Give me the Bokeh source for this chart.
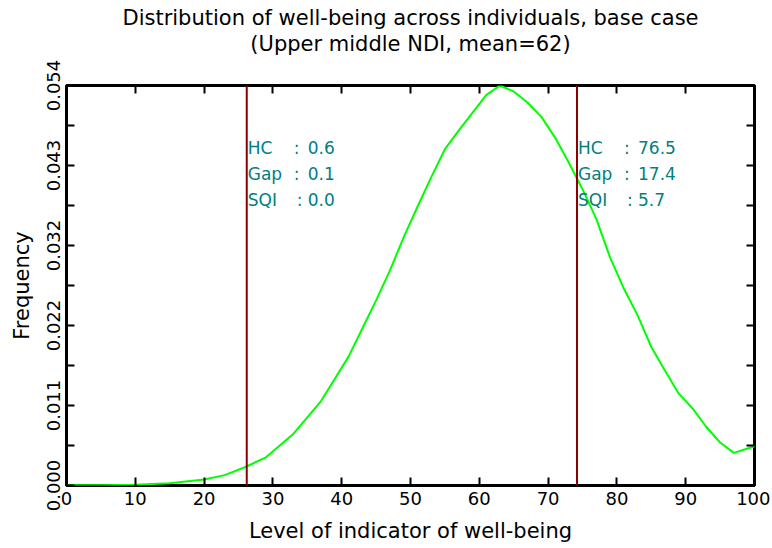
from bokeh.plotting import figure
from bokeh.models import Range1d, FixedTicker, LinearAxis, Label, Span, ColumnDataSource, Title
from bokeh.embed import file_html
from bokeh.resources import INLINE

# ---- data ----
wellbeing_level = [0, 5, 10, 15, 20, 23, 26, 29, 33, 37, 41, 43, 45, 47, 49, 51, 53, 55, 57, 59,
                   61, 63, 65, 67, 69, 71, 73, 75, 77, 79, 81, 83, 85, 87, 89, 91, 93, 95, 97, 99, 101]
frequency = [0.00005, 0.00005, 0.0001, 0.0003, 0.0008, 0.0014, 0.0025, 0.0038, 0.0070, 0.0114,
             0.0174, 0.0212, 0.0250, 0.0290, 0.0335, 0.0376, 0.0416, 0.0454, 0.0479, 0.0503,
             0.0527, 0.0540, 0.0532, 0.0517, 0.0498, 0.0470, 0.0436, 0.0400, 0.0360, 0.0308,
             0.0266, 0.0230, 0.0187, 0.0155, 0.0124, 0.0104, 0.0079, 0.0058, 0.0044, 0.0050, 0.0056]

threshold_lines = [26.2, 74.2]
stat_names = ["HC", "Gap", "SQI"]
stat_values_low = [0.6, 0.1, 0.0]
stat_values_high = [76.5, 17.4, 5.7]

title_line1 = "Distribution of well-being across individuals, base case"
title_line2 = "(Upper middle NDI, mean=62)"

x_ticks = [0, 10, 20, 30, 40, 50, 60, 70, 80, 90, 100]
y_ticks = [0, 0.0108, 0.0216, 0.0324, 0.0432, 0.054]
y_minor_ticks = [0.0054, 0.0162, 0.027, 0.0378, 0.0486]
y_tick_labels = ["0.000", "0.011", "0.022", "0.032", "0.043", "0.054"]

FONT = "DejaVu Sans"
TEAL = "#008080"
DARKRED = "#8b0000"

p = figure(width=770, height=548, output_backend="svg", toolbar_location=None,
           x_range=Range1d(0, 100), y_range=Range1d(0, 0.054),
           min_border_left=66, min_border_right=16, min_border_top=85, min_border_bottom=63)

p.xgrid.visible = False
p.ygrid.visible = False
p.outline_line_color = "black"
p.outline_line_width = 3
p.outline_line_alpha = 1.0
p.background_fill_color = "white"
p.border_fill_color = "white"

def style_axis(ax, labels=True):
    ax.axis_line_color = None
    ax.major_tick_in = 8
    ax.major_tick_out = 0
    ax.minor_tick_in = 8
    ax.minor_tick_out = 0
    ax.major_tick_line_color = "black"
    ax.minor_tick_line_color = "black"
    ax.major_tick_line_width = 2
    ax.minor_tick_line_width = 2
    ax.major_label_text_font = FONT
    ax.major_label_text_font_size = "18px"
    ax.major_label_text_color = "black" if labels else None
    ax.axis_label_text_font = FONT
    ax.axis_label_text_font_size = "21px"
    ax.axis_label_text_font_style = "normal"
    ax.axis_label_text_color = "black"

xt = FixedTicker(ticks=x_ticks, minor_ticks=[])
yt = FixedTicker(ticks=y_ticks, minor_ticks=y_minor_ticks)

xa = p.xaxis[0]
xa.ticker = xt
style_axis(xa)
xa.axis_label = "Level of indicator of well-being"
xa.major_label_standoff = 6
xa.axis_label_standoff = 11

ya = p.yaxis[0]
ya.ticker = yt
style_axis(ya)
ya.axis_label = "Frequency"
ya.major_label_orientation = "vertical"
ya.major_label_overrides = dict(zip(y_ticks, y_tick_labels))
ya.major_label_standoff = 7
ya.axis_label_standoff = 10

# top axis: ticks only; an invisible tiny axis label leaves room below the title
top = LinearAxis(ticker=xt)
style_axis(top, labels=False)
top.major_label_text_font_size = "0px"
top.major_label_standoff = 0
top.axis_label = "."
top.axis_label_text_font_size = "3px"
top.axis_label_text_alpha = 0
top.axis_label_text_color = None
top.axis_label_standoff = 24
p.add_layout(top, "above")

right = LinearAxis(ticker=yt)
style_axis(right, labels=False)
right.major_label_text_font_size = "0px"
right.major_label_standoff = 0
p.add_layout(right, "right")

# titles: sub-title added first (closest to the frame), main title after
p.add_layout(Title(text=title_line2, align="center", text_font=FONT, text_font_size="21px",
                   text_font_style="normal", text_color="black", standoff=0), "above")
p.add_layout(Title(text=title_line1, align="center", text_font=FONT, text_font_size="21px",
                   text_font_style="normal", text_color="black", standoff=0), "above")

src = ColumnDataSource(dict(x=wellbeing_level, y=frequency))
p.line("x", "y", source=src, line_color="#00ff00", line_width=2)

for loc in threshold_lines:
    p.add_layout(Span(location=loc, dimension="height", line_color=DARKRED, line_width=2))

row_y = [0.04563, 0.04212, 0.03861]
colon_off = [47, 47, 50]
for loc, vals in zip(threshold_lines, [stat_values_low, stat_values_high]):
    for name, v, yy, co in zip(stat_names, vals, row_y, colon_off):
        for txt, off in [(name, 1), (":", co), (f"{v:.1f}", 61)]:
            p.add_layout(Label(x=loc, y=yy, x_offset=off, text=txt, text_font=FONT,
                               text_font_size="17px", text_color=TEAL,
                               text_baseline="middle", text_align="left"))

open("out.html", "w").write(file_html(p, INLINE))
